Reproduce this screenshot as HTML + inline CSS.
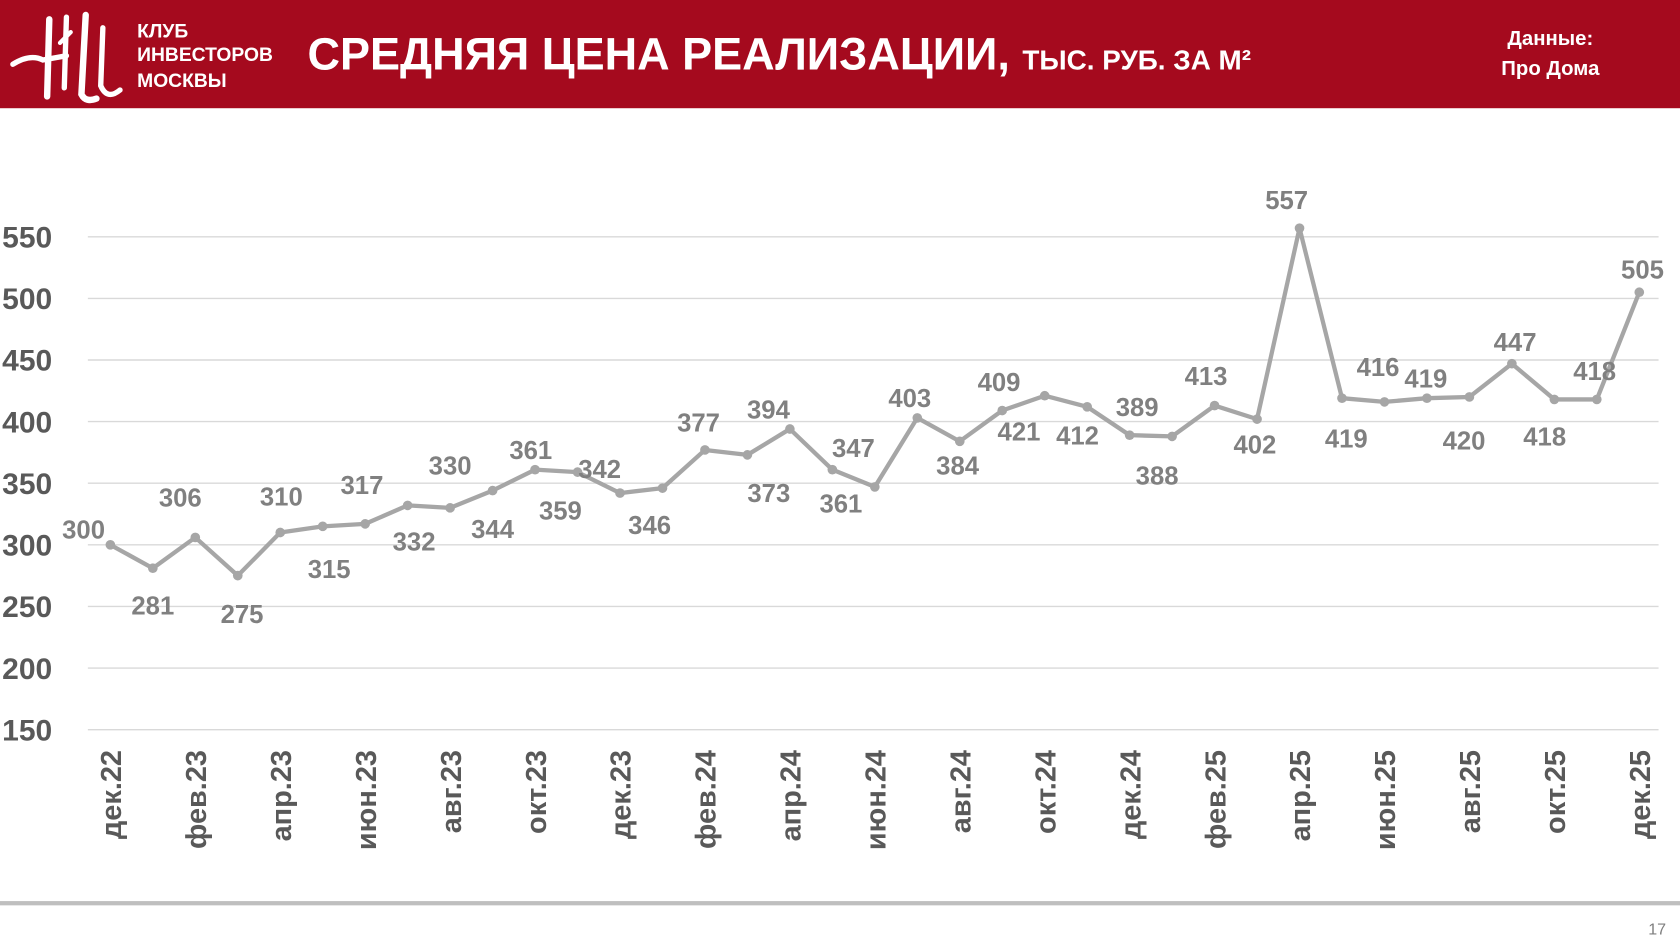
<!DOCTYPE html>
<html><head><meta charset="utf-8">
<style>
html,body{margin:0;padding:0;background:#fff;}
svg{display:block;font-family:"Liberation Sans",sans-serif;}
</style></head>
<body>
<svg id="chart" width="1680" height="945" viewBox="0 0 1568 882" preserveAspectRatio="none" xmlns="http://www.w3.org/2000/svg">
  <rect x="0" y="0" width="1568" height="101" fill="#A50A1E"/>
  <g stroke="#fff" fill="none" stroke-linecap="round">
    <path d="M12 60 Q28 50 40 56 L62 52" stroke-width="5"/>
    <path d="M46 18 L44 90" stroke-width="6"/>
    <path d="M62 16 L60 82" stroke-width="5"/>
    <path d="M80 14 L76 88 Q80 96 90 92" stroke-width="6"/>
    <path d="M96 26 L94 80 Q100 94 112 84" stroke-width="5"/>
    <path d="M56 40 L66 30" stroke-width="4"/>
  </g>
  <g fill="#fff" font-size="18" font-weight="bold">
    <text x="128" y="35">КЛУБ</text>
    <text x="128" y="57">ИНВЕСТОРОВ</text>
    <text x="128" y="81">МОСКВЫ</text>
  </g>
  <text x="287" y="65" fill="#fff" font-weight="bold" font-size="42">СРЕДНЯЯ ЦЕНА РЕАЛИЗАЦИИ, <tspan font-size="26">ТЫС. РУБ. ЗА М²</tspan></text>
  <g fill="#fff" font-weight="bold" font-size="19" text-anchor="middle">
    <text x="1447" y="42">Данные:</text>
    <text x="1447" y="70">Про Дома</text>
  </g>
  <g id="grid"></g>
  <g id="yticks"></g>
  <g id="xticks"></g>
  <polyline id="series-line" fill="none" stroke="#A6A6A6" stroke-width="4" stroke-linejoin="round"/>
  <g id="points"></g>
  <g id="labels"></g>
  <rect x="0" y="841" width="1568" height="4" fill="#bfbfbf"/>
  <text x="1555" y="872" fill="#7f7f7f" font-size="15" text-anchor="end">17</text>
</svg>
<script>
const categories = ["дек.22","янв.23","фев.23","мар.23","апр.23","май.23","июн.23","июл.23","авг.23","сен.23","окт.23","ноя.23","дек.23","янв.24","фев.24","мар.24","апр.24","май.24","июн.24","июл.24","авг.24","сен.24","окт.24","ноя.24","дек.24","янв.25","фев.25","мар.25","апр.25","май.25","июн.25","июл.25","авг.25","сен.25","окт.25","ноя.25","дек.25"];
const values = [300,281,306,275,310,315,317,332,330,344,361,359,342,346,377,373,394,361,347,403,384,409,421,412,389,388,413,402,557,419,416,419,420,447,418,418,505];
const yTicks = [150,200,250,300,350,400,450,500,550];
// label placement offsets (style)
const labelDx = [-25,0,-14,4,1,6,-3,6,0,0,-4,-16,-19,-12,-6,20,-20,8,-20,-7,-2,-3,-24,-9,7,-14,-8,-2,-12,4,-6,-1,-5,3,-9,-2,3];
const labelDy = [-15,34,-38,35,-34,39,-37,33,-40,35,-19,35,-23,34,-26,35,-19,31,-37,-19,22,-27,33,26,-27,36,-28,23,-27,37,-33,-19,40,-21,34,-27,-22];

const NS="http://www.w3.org/2000/svg";
const x0=103, x1=1530, yMin=150, yMax=550, py0=681, py1=221;
const xS=i=>x0+(x1-x0)*i/(categories.length-1);
const yS=v=>py0-(v-yMin)*(py0-py1)/(yMax-yMin);
function mk(tag,attrs,parent){const e=document.createElementNS(NS,tag);for(const k in attrs)e.setAttribute(k,attrs[k]);parent.appendChild(e);return e;}

const grid=document.getElementById('grid'), yt=document.getElementById('yticks'), xt=document.getElementById('xticks');
yTicks.forEach(t=>{
  const l=mk('line',{x1:82,x2:1548,y1:yS(t),y2:yS(t),stroke:'#d9d9d9','stroke-width':1.3},grid);
  
  
  const tx=mk('text',{x:2,y:yS(t)+10,fill:'#595959','font-size':28,'font-weight':'bold'},yt);
  tx.textContent=t;
  
  
});
categories.forEach((c,i)=>{
  if(i%2) return;
  const x=xS(i)+10;
  const tx=mk('text',{x:0,y:0,fill:'#595959','font-size':27,'font-weight':'bold','text-anchor':'end',transform:`translate(${x},700) rotate(-90)`},xt);
  tx.textContent=c;
  
  
});
document.getElementById('series-line').setAttribute('points',values.map((v,i)=>xS(i)+','+yS(v)).join(' '));
const pts=document.getElementById('points'), lbs=document.getElementById('labels');
values.forEach((v,i)=>{
  const c=mk('circle',{cx:xS(i),cy:yS(v),r:4.5,fill:'#A6A6A6'},pts);
  
  
  const t=mk('text',{x:xS(i)+labelDx[i],y:yS(v)+labelDy[i]+9,fill:'#808080','font-size':24,'font-weight':'bold','text-anchor':'middle'},lbs);
  t.textContent=v;
  
  
});
</script>
</body></html>
